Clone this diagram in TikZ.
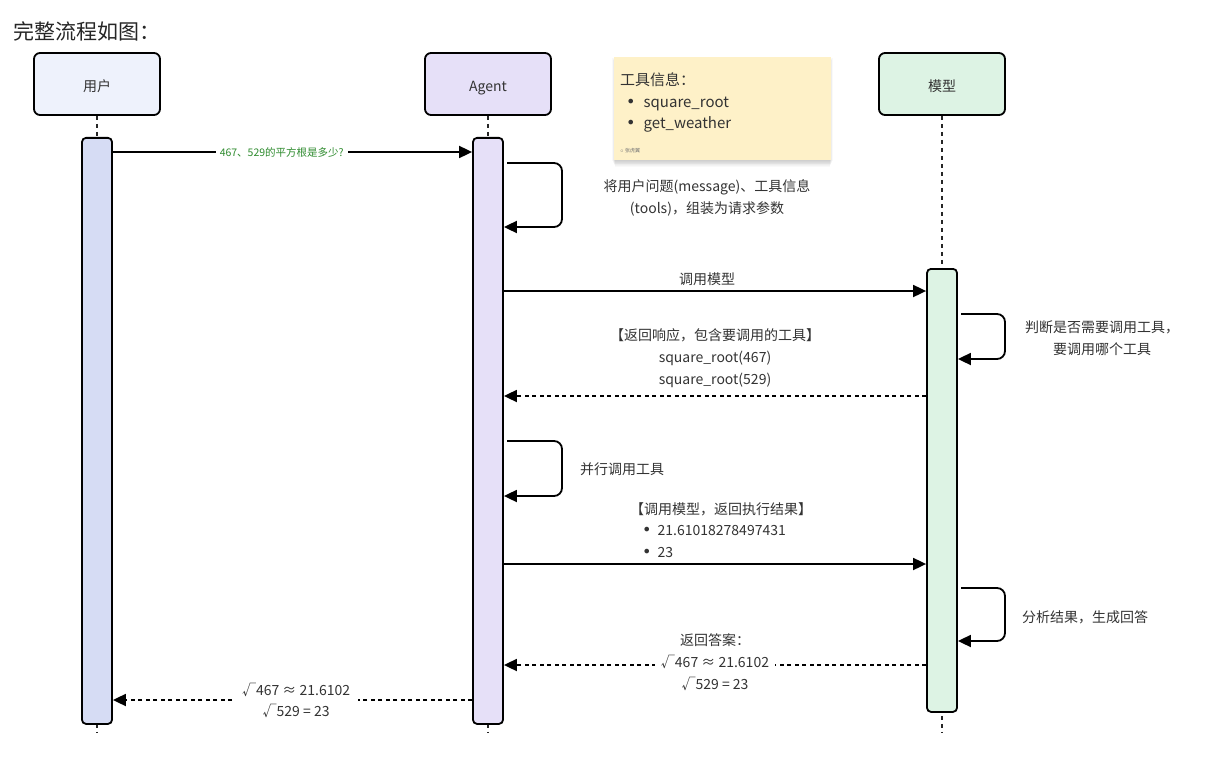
\documentclass[tikz,border=0pt]{standalone}
\usepackage{fontspec}
\setmainfont{Noto Sans CJK SC}
\newfontfamily\bulletfont{DejaVu Sans}
\newcommand{\bul}{{\bulletfont\fontsize{16}{16}\selectfont •}}
\usetikzlibrary{arrows.meta,calc}
\definecolor{userfill}{HTML}{EEF2FC}
\definecolor{userbar}{HTML}{D6DCF4}
\definecolor{agentfill}{HTML}{E6E0F8}
\definecolor{modelfill}{HTML}{DDF3E4}
\definecolor{notefill}{HTML}{FEF1C8}
\definecolor{msggreen}{HTML}{2E8B2E}
\definecolor{txt}{HTML}{333333}
\begin{document}
\begin{tikzpicture}[x=1pt,y=-1pt,
 actor/.style={draw=black,line width=1.8pt,rounded corners=6pt,minimum width=126pt,minimum height=62pt,inner sep=0pt,font=\fontsize{14}{16}\selectfont,text=txt},
 bar/.style={draw=black,line width=1.8pt,rounded corners=4pt,minimum width=30pt,anchor=north,inner sep=0pt},
 life/.style={line width=1.8pt,dash pattern=on 4pt off 4pt,black!85},
 msg/.style={line width=1.8pt,-{Triangle[length=13pt,width=12pt]}},
 ret/.style={msg,dash pattern=on 4pt off 3.5pt},
 lbl/.style={font=\fontsize{14}{22}\selectfont,text=txt,align=center,inner sep=2pt},
]
\useasboundingbox (0,0) rectangle (1217,759);
\fill[white] (0,0) rectangle (1217,759);

% title
\node[anchor=west,font=\fontsize{21}{24}\selectfont,text=black!85,inner sep=0pt] (title) at (13,31) {完整流程如图：};

% actors
\node[actor,fill=userfill] (user) at (97,84) {\raisebox{-3pt}[10pt][0pt]{用户}};
\node[actor,fill=agentfill] (agent) at (488,84) {\raisebox{-3pt}[10pt][0pt]{Agent}};
\node[actor,fill=modelfill] (model) at (942,84) {\raisebox{-3pt}[10pt][0pt]{模型}};

% lifeline ends
\coordinate (uend) at (97,733);
\coordinate (aend) at (488,733);
\coordinate (mend) at (942,733);
\draw[life] (user.south) -- (uend);
\draw[life] (agent.south) -- (aend);
\draw[life] (model.south) -- (mend);

% activation bars
\node[bar,fill=userbar,minimum height=586pt] (ub) at (97,137) {};
\node[bar,fill=agentfill,minimum height=586pt] (ab) at (488,137) {};
\node[bar,fill=modelfill,minimum height=443pt] (mb) at (942,268) {};

% note with soft shadow
\foreach \i in {1,...,8}{
  \fill[black,opacity=0.025] ($(614,57)+(\i*0.4-2,\i*0.9)$) rectangle ($(831,160)+(2-\i*0.4,\i*0.9)$);
}
\node[draw=none,fill=notefill,minimum width=217pt,minimum height=103pt,anchor=north west] (note) at (614,57) {};
\node[anchor=north west,align=left,font=\fontsize{15}{21.5}\selectfont,text=txt,inner sep=0pt] (notetext) at (620,73)
 {工具信息：\\\hspace{6pt}\bul\hspace{8pt}square\_root\\\hspace{6pt}\bul\hspace{8pt}get\_weather};
\node[anchor=west,font=\fontsize{5}{6}\selectfont,text=black!55,inner sep=0pt] (wm) at (620,151) {$\circ$ 张虎翼};

% y levels
\coordinate (y1) at (0,152);
\coordinate (y2) at (0,291);
\coordinate (y3) at (0,396);
\coordinate (y4) at (0,564);
\coordinate (y5) at (0,665);
\coordinate (y6) at (0,700);

% message 1
\draw[msg] (ub.east |- y1) -- (ab.west |- y1)
  node[pos=0.47,fill=white,text=msggreen,font=\fontsize{10.5}{12}\selectfont,inner sep=4pt] (m1) {467、529的平方根是多少?};

% agent self loop 1
\coordinate (l1a) at (507,163);
\coordinate (l1b) at (562,163);
\coordinate (l1c) at (562,227);
\coordinate (l1d) at (0,227);
\draw[msg,rounded corners=8pt] (l1a) -- (l1b) -- (l1c) -- (ab.east |- l1d);
\node[lbl] (t1) at (707,198) {将用户问题(message)、工具信息\\(tools)，组装为请求参数};

% call model
\draw[msg] (ab.east |- y2) -- (mb.west |- y2);
\node[lbl] (t2) at (707,279) {调用模型};

% model self loop 1
\coordinate (l2a) at (961,314);
\coordinate (l2b) at (1005,314);
\coordinate (l2c) at (1005,359);
\coordinate (l2d) at (0,359);
\draw[msg,rounded corners=8pt] (l2a) -- (l2b) -- (l2c) -- (mb.east |- l2d);
\node[lbl] (t3) at (1102,338) {判断是否需要调用工具，\\要调用哪个工具};

% return response
\draw[ret] (mb.west |- y3) -- (ab.east |- y3);
\node[lbl] (t4) at (715,358) {【返回响应，包含要调用的工具】\\square\_root(467)\\square\_root(529)};

% agent self loop 2
\coordinate (l3a) at (507,441);
\coordinate (l3b) at (562,441);
\coordinate (l3c) at (562,496);
\coordinate (l3d) at (0,496);
\draw[msg,rounded corners=8pt] (l3a) -- (l3b) -- (l3c) -- (ab.east |- l3d);
\node[lbl,anchor=west] (t5) at (578,469) {并行调用工具};

% call model with results
\draw[msg] (ab.east |- y4) -- (mb.west |- y4);
\node[lbl,anchor=west,align=left,font=\fontsize{14}{21.5}\selectfont] (t6) at (628,530)
 {【调用模型，返回执行结果】\\\hspace{12pt}\bul\hspace{6pt}21.61018278497431\\\hspace{12pt}\bul\hspace{6pt}23};

% model self loop 2
\coordinate (l4a) at (961,588);
\coordinate (l4b) at (1005,588);
\coordinate (l4c) at (1005,641);
\coordinate (l4d) at (0,641);
\draw[msg,rounded corners=8pt] (l4a) -- (l4b) -- (l4c) -- (mb.east |- l4d);
\node[lbl,anchor=west] (t7) at (1020,617) {分析结果，生成回答};

% return answer
\draw[ret] (mb.west |- y5) -- (ab.east |- y5)
  node[pos=0.5,lbl,fill=white,inner xsep=6pt,yshift=2.5pt] (t8) {返回答案：\\√467 ≈ 21.6102\\√529 = 23};

% return to user
\draw[ret] (ab.west |- y6) -- (ub.east |- y6)
  node[pos=0.49,lbl,fill=white,inner xsep=8pt,font=\fontsize{14}{21}\selectfont] (t9) {√467 ≈ 21.6102\\√529 = 23};

\end{tikzpicture}
\end{document}
